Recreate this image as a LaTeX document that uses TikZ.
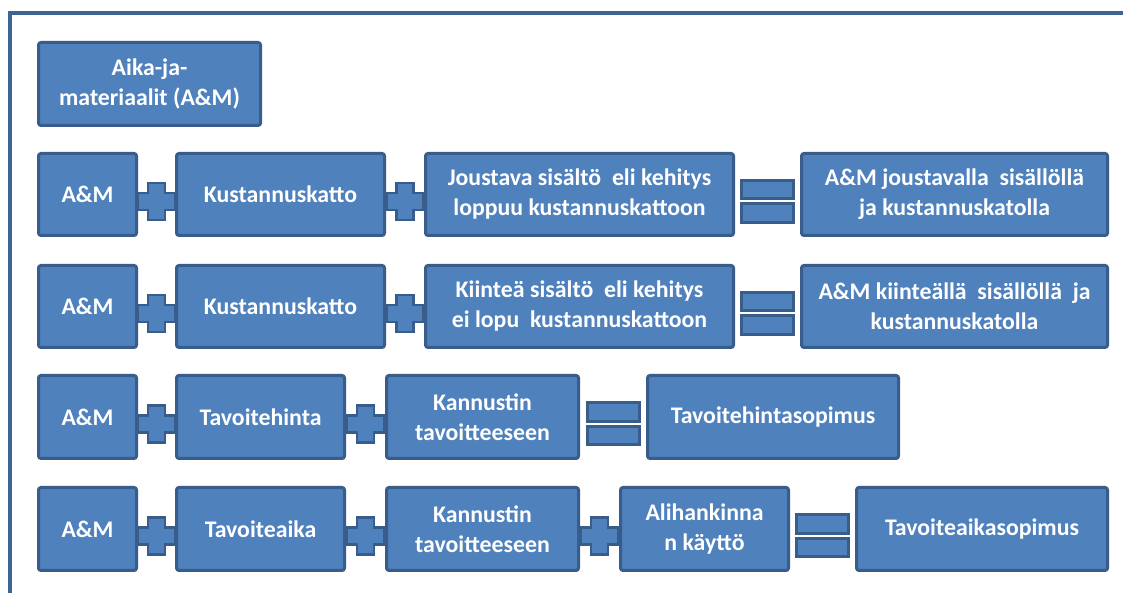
\documentclass[tikz,border=0pt]{standalone}
\usepackage{fontspec}
\setmainfont{Carlito}
\definecolor{boxfill}{RGB}{79,129,189}
\definecolor{boxline}{RGB}{56,93,138}
\definecolor{framecol}{RGB}{62,100,148}
\tikzset{
  box/.style={draw=boxline, fill=boxfill, line width=3pt, rounded corners=2.5pt,
    text=white, align=center, inner sep=2pt,
    font=\fontsize{23.8}{30}\selectfont\bfseries},
  plussign/.pic={
    \filldraw[fill=boxfill, draw=boxline, line width=2.5pt]
      (-18.5,-8.5) -- (-8.5,-8.5) -- (-8.5,-18.5) -- (8.5,-18.5) -- (8.5,-8.5)
      -- (18.5,-8.5) -- (18.5,8.5) -- (8.5,8.5) -- (8.5,18.5) -- (-8.5,18.5)
      -- (-8.5,8.5) -- (-18.5,8.5) -- cycle;
  },
  equalsign/.pic={
    \filldraw[fill=boxfill, draw=boxline, line width=3pt]
      (-26,2.5) rectangle (26,21);
    \filldraw[fill=boxfill, draw=boxline, line width=3pt]
      (-26,-2.5) rectangle (26,-21);
  }
}
\begin{document}
\begin{tikzpicture}[x=1pt,y=1pt]
\useasboundingbox (0,0) rectangle (1123,593);
\fill[white] (0,0) rectangle (1123,593);
% outer frame, open to the right and bottom
\draw[framecol, line width=4pt] (10,0) -- (10,580) -- (1123,580);

% heading box
\node[box, minimum width=222pt, minimum height=83pt] (aika) at (149.5,509) {Aika-ja-\\materiaalit (A\&M)};

% row 1
\node[box, minimum width=98pt,  minimum height=82pt] (a1) at (87.5,398.5) {A\&M};
\node[box, minimum width=208pt, minimum height=82pt] (b1) at (280.5,398.5) {Kustannuskatto};
\node[box, minimum width=308pt, minimum height=82pt] (c1) at (579.5,398.5) {Joustava sisältö\ \ eli kehitys\\loppuu kustannuskattoon};
\node[box, minimum width=306pt, minimum height=82pt] (r1) at (954.5,398.5) {A\&M joustavalla\ \ sisällöllä\\ja kustannuskatolla};

% row 2
\node[box, minimum width=98pt,  minimum height=82pt] (a2) at (87.5,286.5) {A\&M};
\node[box, minimum width=208pt, minimum height=82pt] (b2) at (280.5,286.5) {Kustannuskatto};
\node[box, minimum width=308pt, minimum height=82pt] (c2) at (579.5,286.5) {Kiinteä sisältö\ \ eli kehitys\\ei lopu\ \ kustannuskattoon};
\node[box, minimum width=306pt, minimum height=82pt] (r2) at (954.5,286.5) {A\&M kiinteällä\ \ sisällöllä\ \ ja\\kustannuskatolla};

% row 3
\node[box, minimum width=98pt,  minimum height=83pt] (a3) at (87.5,176) {A\&M};
\node[box, minimum width=168pt, minimum height=83pt] (b3) at (260.5,176) {Tavoitehinta};
\node[box, minimum width=192pt, minimum height=83pt] (c3) at (482.5,176) {Kannustin\\tavoitteeseen};
\node[box, minimum width=251pt, minimum height=83pt] (r3) at (773,176) {Tavoitehintasopimus};

% row 4
\node[box, minimum width=98pt,  minimum height=83pt] (a4) at (87.5,64) {A\&M};
\node[box, minimum width=168pt, minimum height=83pt] (b4) at (260.5,64) {Tavoiteaika};
\node[box, minimum width=192pt, minimum height=83pt] (c4) at (482.5,64) {Kannustin\\tavoitteeseen};
\node[box, minimum width=168pt, minimum height=83pt] (d4) at (704.5,64) {Alihankinna\\n käyttö};
\node[box, minimum width=251pt, minimum height=83pt] (r4) at (982,64) {Tavoiteaikasopimus};

% operator positions between neighbouring boxes
\foreach \l/\r/\n in {a1/b1/p1a, b1/c1/p1b, a2/b2/p2a, b2/c2/p2b, a3/b3/p3a, b3/c3/p3b,
                      a4/b4/p4a, b4/c4/p4b, c4/d4/p4c,
                      c1/r1/e1, c2/r2/e2, c3/r3/e3, d4/r4/e4}
  \path (\l.east) -- (\r.west) coordinate[pos=0.5] (\n);

\foreach \n in {p1a, p1b, p2a, p2b, p3a, p3b, p4a, p4b, p4c}
  \pic at ([yshift=-7pt]\n) {plussign};
\foreach \n in {e1, e2, e3, e4}
  \pic at ([yshift=-7pt]\n) {equalsign};
\end{tikzpicture}
\end{document}
